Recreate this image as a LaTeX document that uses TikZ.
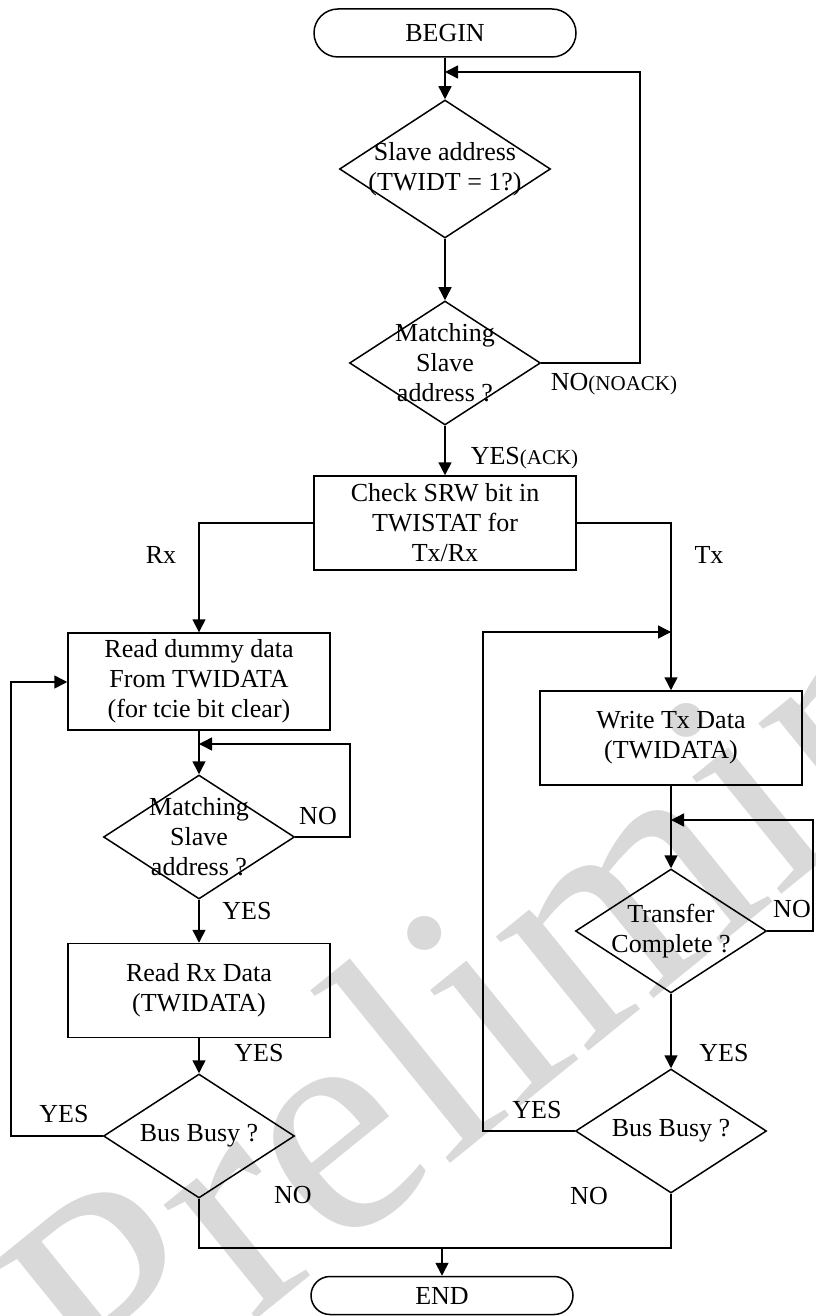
\documentclass[tikz,border=0pt]{standalone}
\usepackage{fontspec}
\setmainfont{Liberation Serif}
\usetikzlibrary{shapes,arrows.meta,positioning,calc}

\begin{document}
\begin{tikzpicture}[x=0.5pt, y=-0.5pt, line width=0.75pt,
    font=\fontsize{13}{15}\selectfont,
    terminal/.style={draw, rounded corners=12pt, minimum width=131pt, minimum height=24pt},
    process/.style={draw, align=center, minimum width=131pt, minimum height=47pt},
    decision/.style={draw, diamond, inner sep=0pt, minimum width=95.5pt, minimum height=62pt},
    flow/.style={-{Triangle[length=6.5pt,width=6.5pt]}},
    tag/.style={inner sep=0pt}]
    \useasboundingbox (0,0) rectangle (815,1316);

    % watermark
    \begin{scope}
        \clip (0,0) rectangle (815,1316);
        \node[rotate=39, anchor=base west, inner sep=0pt, text=black!15,
              font=\fontsize{160}{160}\selectfont] (mark) at (113,1436) {Preliminary};
    \end{scope}

    % main column
    \node[terminal] (begin) at (445,33) {BEGIN};
    \node[decision, minimum width=105.5pt, minimum height=69pt,
          label={[align=center]center:{Slave address\\(TWIDT = 1?)}}] (addr) at (445,169) {};
    \node[decision, label={[align=center]center:{Matching\\Slave\\address ?}}] (match) at (445,363) {};
    \node[process] (check) at (445,523) {Check SRW bit in\\TWISTAT for\\Tx/Rx};

    % Rx branch
    \node[process] (dummy) at (199,681.5) {Read dummy data\\From TWIDATA\\(for tcie bit clear)};
    \node[decision, label={[align=center]center:{Matching\\Slave\\address ?}}] (rxmatch) at (199,837) {};
    \node[process] (rxdata) at (199,990.5) {Read Rx Data\\(TWIDATA)};
    \node[decision, label={center:Bus Busy ?}] (rxbusy) at (199,1136) {};

    % Tx branch
    \node[process] (txdata) at (671,738) {Write Tx Data\\(TWIDATA)};
    \node[decision, label={[align=center]center:{Transfer\\Complete ?}}] (txdone) at (671,931) {};
    \node[decision, label={center:Bus Busy ?}] (txbusy) at (671,1131) {};

    \node[terminal, minimum height=19pt, rounded corners=9.5pt] (end) at (442,1295.5) {END};

    % loop corners
    \coordinate (ackback) at (640,72);
    \coordinate (rxback) at (350,744);
    \coordinate (rxloop) at (11,682);
    \coordinate (txback) at (813,820);
    \coordinate (txloop) at (483,632);
    \coordinate (join) at (442,1248);

    % connectors
    \draw[flow] (begin) -- (addr);
    \draw[flow] (addr) -- (match);
    \draw[flow] (match.east) -| (ackback) -- (ackback -| addr.north);
    \draw[flow] (match) -- (check);
    \draw[flow] (check.west) -| (dummy.north);
    \draw[flow] (check.east) -| (txdata.north);
    \draw[flow] (dummy) -- (rxmatch);
    \draw[flow] (rxmatch.east) -| (rxback) -- (rxback -| rxmatch.north);
    \draw[flow] (rxmatch) -- (rxdata);
    \draw[flow] (rxdata) -- (rxbusy);
    \draw[flow] (rxbusy.west) -| (rxloop) -- (rxloop -| dummy.west);
    \draw[flow] (txdata) -- (txdone);
    \draw[flow] (txdone.east) -| (txback) -- (txback -| txdone.north);
    \draw[flow] (txdone) -- (txbusy);
    \draw[flow] (txbusy.west) -| (txloop) -- (txloop -| txdata.north);
    \draw (rxbusy.south) |- (join) -| (txbusy.south);
    \draw[flow] (join) -- (end);

    % labels
    \node[tag] (nack) at (614,384) {NO{\fontsize{10.5}{12}\selectfont(NOACK)}};
    \node[tag] (ack) at (524.5,458) {YES{\fontsize{10.5}{12}\selectfont(ACK)}};
    \node[tag] (rx) at (161,555) {Rx};
    \node[tag] (tx) at (709,555) {Tx};
    \node[tag] (rxno) at (318,816) {NO};
    \node[tag] (rxyes) at (247,911) {YES};
    \node[tag] (rdyes) at (259,1053) {YES};
    \node[tag] (busyyes) at (64,1114) {YES};
    \node[tag] (busyno) at (293,1195) {NO};
    \node[tag] (txno) at (792,909) {NO};
    \node[tag] (doneyes) at (724,1053) {YES};
    \node[tag] (txbusyyes) at (537,1110) {YES};
    \node[tag] (txbusyno) at (589,1196) {NO};
\end{tikzpicture}
\end{document}
